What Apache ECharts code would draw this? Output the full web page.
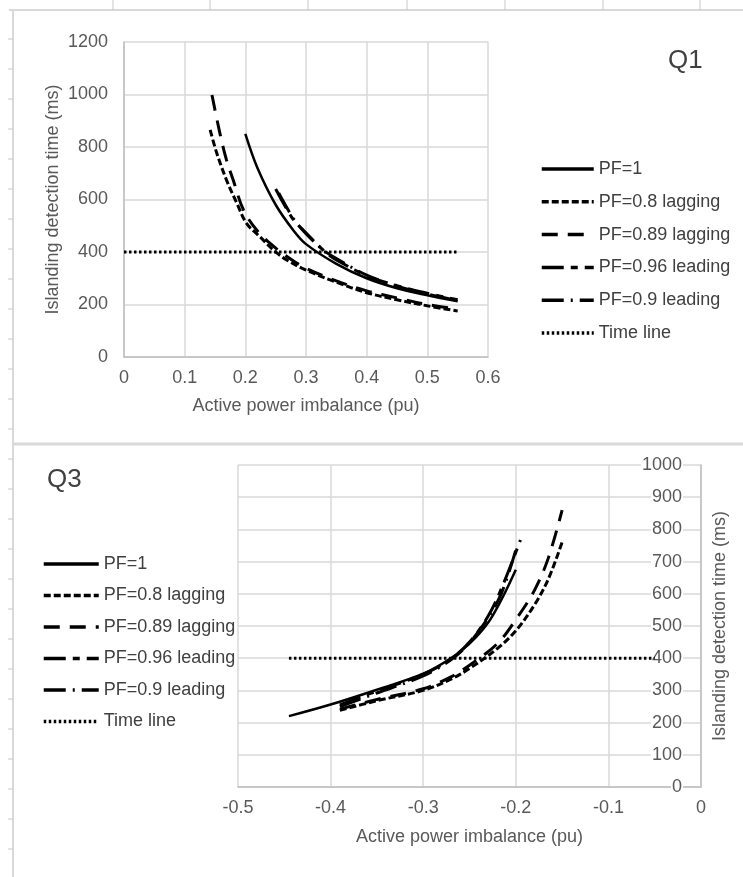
<!DOCTYPE html>
<html>
<head>
<meta charset="utf-8">
<script src="https://cdn.jsdelivr.net/npm/echarts@6/dist/echarts.min.js"></script>
<style>
html,body{margin:0;padding:0;background:#fff;}
#chart{width:743px;height:877px;}
</style>
</head>
<body>
<div id="chart"></div>
<script>
// ---------- Data ----------
const seriesNames = ['PF=1', 'PF=0.8 lagging', 'PF=0.89 lagging', 'PF=0.96 leading', 'PF=0.9 leading', 'Time line'];

// Q1 panel
const q1TickX = [0, 0.1, 0.2, 0.3, 0.4, 0.5, 0.6];
const q1TickY = [0, 200, 400, 600, 800, 1000, 1200];
const q1Pf1X = [0.2, 0.22, 0.25, 0.28, 0.3, 0.35, 0.4, 0.45, 0.5, 0.55];
const q1Pf1Y = [850, 720, 580, 480, 430, 355, 300, 262, 235, 212];
const q1Pf08X = [0.142, 0.153, 0.169, 0.186, 0.202, 0.224, 0.246, 0.268, 0.3, 0.35, 0.4, 0.45, 0.5, 0.55];
const q1Pf08Y = [865, 776, 674, 586, 509, 458, 408, 370, 331, 285, 245, 218, 195, 175];
const q1Pf089X = [0.145, 0.158, 0.169, 0.18, 0.197, 0.22, 0.25, 0.28, 0.3, 0.35, 0.4, 0.45, 0.5, 0.55];
const q1Pf089Y = [998, 853, 750, 674, 560, 480, 415, 365, 338, 290, 252, 225, 200, 182];
const q1Pf096X = [0.25, 0.276, 0.29, 0.334, 0.35, 0.4, 0.45, 0.5, 0.55];
const q1Pf096Y = [640, 534, 496, 395, 370, 310, 272, 243, 218];
const q1Pf09X = [0.255, 0.28, 0.3, 0.33, 0.35, 0.4, 0.45, 0.5, 0.55];
const q1Pf09Y = [625, 525, 470, 405, 375, 312, 270, 240, 215];
const q1TimeX = [0, 0.55];
const q1TimeY = [400, 400];

// Q3 panel
const q3TickX = [-0.5, -0.4, -0.3, -0.2, -0.1, 0];
const q3TickY = [0, 100, 200, 300, 400, 500, 600, 700, 800, 900, 1000];
const q3Pf1X = [-0.445, -0.4, -0.35, -0.3, -0.27, -0.25, -0.23, -0.215, -0.2];
const q3Pf1Y = [220, 256, 302, 352, 400, 445, 510, 585, 675];
const q3Pf08X = [-0.39, -0.35, -0.3, -0.27, -0.25, -0.22, -0.2, -0.18, -0.165, -0.15];
const q3Pf08Y = [238, 268, 300, 335, 368, 430, 485, 565, 645, 760];
const q3Pf089X = [-0.39, -0.35, -0.3, -0.27, -0.25, -0.22, -0.2, -0.18, -0.165, -0.15];
const q3Pf089Y = [242, 272, 305, 342, 378, 445, 520, 610, 710, 860];
const q3Pf096X = [-0.39, -0.35, -0.3, -0.27, -0.25, -0.23, -0.215, -0.195];
const q3Pf096Y = [255, 298, 350, 398, 450, 530, 620, 767];
const q3Pf09X = [-0.39, -0.35, -0.3, -0.27, -0.25, -0.23, -0.215, -0.2];
const q3Pf09Y = [250, 292, 345, 395, 448, 525, 605, 736];
const q3TimeX = [-0.445, -0.05];
const q3TimeY = [400, 400];

// ---------- Styles ----------
const FONT = '"Liberation Sans", Arial, sans-serif';
const lineStyles = [
  { type: 'solid', width: 2.5 },
  { type: [7, 3], width: 3 },
  { type: [16, 10], width: 3 },
  { type: [22, 7, 7, 7], width: 3 },
  { type: [22, 7, 2, 7], width: 3 },
  { type: [2.5, 2.5], width: 3 }
];

function pairs(xs, ys) { return xs.map((x, i) => [x, ys[i]]); }

const q1Data = [pairs(q1Pf1X, q1Pf1Y), pairs(q1Pf08X, q1Pf08Y), pairs(q1Pf089X, q1Pf089Y),
                pairs(q1Pf096X, q1Pf096Y), pairs(q1Pf09X, q1Pf09Y), pairs(q1TimeX, q1TimeY)];
const q3Data = [pairs(q3Pf1X, q3Pf1Y), pairs(q3Pf08X, q3Pf08Y), pairs(q3Pf089X, q3Pf089Y),
                pairs(q3Pf096X, q3Pf096Y), pairs(q3Pf09X, q3Pf09Y), pairs(q3TimeX, q3TimeY)];

function mkSeries(data, idx) {
  return data.map((d, i) => ({
    name: seriesNames[i],
    type: 'line',
    xAxisIndex: idx, yAxisIndex: idx,
    data: d,
    symbol: 'none',
    smooth: i === 5 ? false : 0.35,
    color: '#000',
    lineStyle: Object.assign({ color: '#000', cap: 'butt' }, lineStyles[i]),
    animation: false,
    silent: true
  }));
}

const axisLabelStyle = { color: '#595959', fontSize: 18, fontFamily: FONT };
const gridLine = { show: true, lineStyle: { color: '#d9d9d9', width: 1.5 } };
const numFmt = v => String(+(+v).toFixed(1));

// ---------- Background decoration (sheet frame) ----------
const deco = [];
deco.push({ type: 'line', shape: { x1: 9, y1: 10, x2: 743, y2: 10 }, style: { stroke: '#d9d9d9', lineWidth: 2 } });
[113, 210, 308, 407, 505, 603, 700].forEach(x => deco.push({ type: 'line', shape: { x1: x, y1: 0, x2: x, y2: 10 }, style: { stroke: '#c8c8c8', lineWidth: 1 } }));
deco.push({ type: 'line', shape: { x1: 13, y1: 10, x2: 13, y2: 877 }, style: { stroke: '#d9d9d9', lineWidth: 2 } });
for (let y = 39; y < 877; y += 30) deco.push({ type: 'line', shape: { x1: 8, y1: y, x2: 13, y2: y }, style: { stroke: '#c8c8c8', lineWidth: 1 } });
deco.push({ type: 'line', shape: { x1: 13, y1: 444, x2: 743, y2: 444 }, style: { stroke: '#d9d9d9', lineWidth: 3 } });
deco.push({ type: 'text', left: 668, top: 48, style: { text: 'Q1', fontSize: 26, fontFamily: FONT, fill: '#404040' } });
deco.push({ type: 'text', left: 47, top: 467, style: { text: 'Q3', fontSize: 26, fontFamily: FONT, fill: '#404040' } });

const legendCommon = {
  orient: 'vertical',
  itemHeight: 18,
  data: seriesNames,
  textStyle: { fontSize: 18, color: '#404040', fontFamily: FONT },
  itemStyle: { color: 'transparent', borderColor: 'transparent', borderWidth: 0, opacity: 0 },
  lineStyle: { width: 3.5 },
  selectedMode: false
};

const chart = echarts.init(document.getElementById('chart'), null, { renderer: 'canvas' });
chart.setOption({
  backgroundColor: '#fff',
  animation: false,
  textStyle: { fontFamily: FONT },
  graphic: deco,
  legend: [
    Object.assign({ left: 535, top: 155, itemWidth: 52, itemGap: 14.8 }, legendCommon),
    Object.assign({ left: 37, top: 550, itemWidth: 55, itemGap: 13.5 }, legendCommon)
  ],
  grid: [
    { left: 124, top: 42, width: 364, height: 315 },
    { left: 238, top: 465, width: 463, height: 322 }
  ],
  xAxis: [
    {
      gridIndex: 0, type: 'value',
      min: q1TickX[0], max: q1TickX[q1TickX.length - 1], interval: 0.1,
      name: 'Active power imbalance (pu)', nameLocation: 'middle', nameGap: 40,
      nameTextStyle: { color: '#595959', fontSize: 18, fontFamily: FONT },
      axisLine: { lineStyle: { color: '#bfbfbf', width: 1.5 } },
      axisTick: { show: false },
      axisLabel: Object.assign({ margin: 12, formatter: numFmt }, axisLabelStyle),
      splitLine: gridLine
    },
    {
      gridIndex: 1, type: 'value',
      min: q3TickX[0], max: q3TickX[q3TickX.length - 1], interval: 0.1,
      name: 'Active power imbalance (pu)', nameLocation: 'middle', nameGap: 41,
      nameTextStyle: { color: '#595959', fontSize: 18, fontFamily: FONT },
      axisLine: { onZero: false, lineStyle: { color: '#bfbfbf', width: 1.5 } },
      axisTick: { show: false },
      axisLabel: Object.assign({ margin: 12, formatter: numFmt }, axisLabelStyle),
      splitLine: gridLine
    }
  ],
  yAxis: [
    {
      gridIndex: 0, type: 'value',
      min: q1TickY[0], max: q1TickY[q1TickY.length - 1], interval: 200,
      name: 'Islanding detection time (ms)', nameLocation: 'middle', nameGap: 62, nameRotate: 90,
      nameTextStyle: { color: '#595959', fontSize: 18, fontFamily: FONT },
      axisLine: { show: true, lineStyle: { color: '#bfbfbf', width: 1.5 } },
      axisTick: { show: false },
      axisLabel: Object.assign({ margin: 16, formatter: v => String(v) }, axisLabelStyle),
      splitLine: gridLine
    },
    {
      gridIndex: 1, type: 'value', position: 'right',
      min: q3TickY[0], max: q3TickY[q3TickY.length - 1], interval: 100,
      name: 'Islanding detection time (ms)', nameLocation: 'middle', nameGap: 10, nameRotate: 90,
      nameTextStyle: { color: '#595959', fontSize: 18, fontFamily: FONT },
      axisLine: { show: true, onZero: false, lineStyle: { color: '#bfbfbf', width: 1.5 } },
      axisTick: { show: false },
      axisLabel: Object.assign({ inside: true, margin: 18, backgroundColor: '#fff', padding: [0, 1], formatter: v => String(v) }, axisLabelStyle),
      splitLine: gridLine
    }
  ],
  series: mkSeries(q1Data, 0).concat(mkSeries(q3Data, 1))
});
</script>
</body>
</html>
